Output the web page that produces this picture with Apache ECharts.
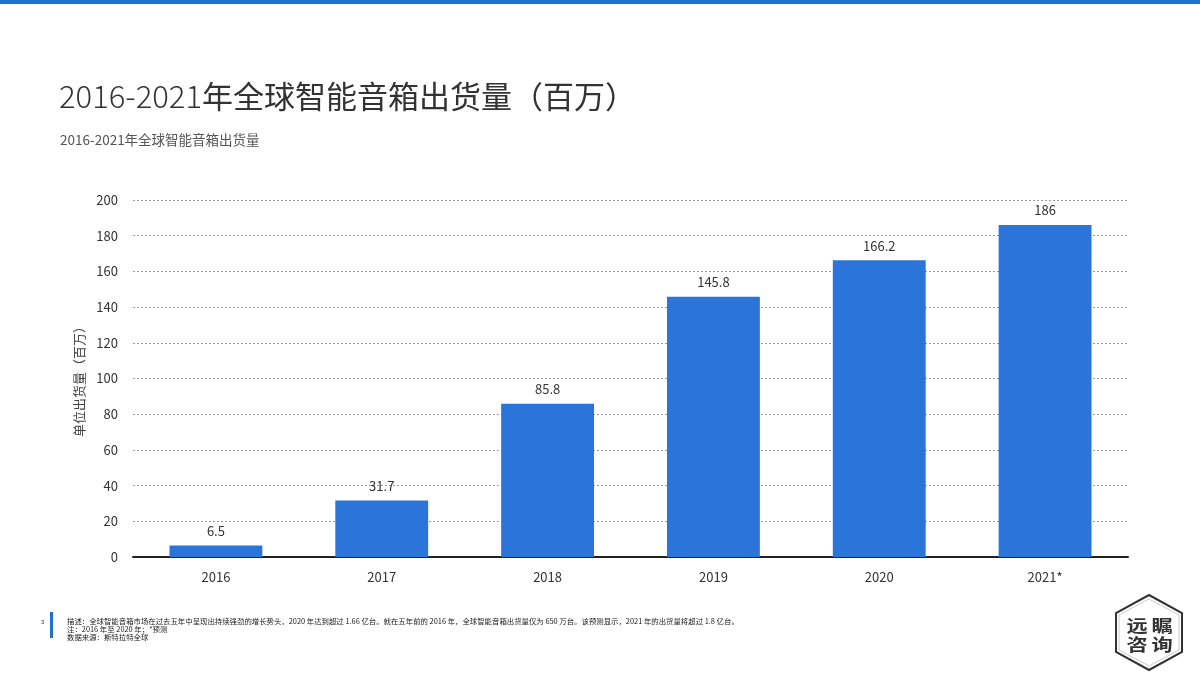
<!DOCTYPE html>
<html>
<head>
<meta charset="utf-8">
<script src="https://cdn.jsdelivr.net/npm/echarts@6/dist/echarts.min.js"></script>
<style>html,body{margin:0;padding:0;background:#fff;}#c{width:1200px;height:675px;}</style>
</head>
<body>
<div id="c"></div>
<script>
const categories = ['2016', '2017', '2018', '2019', '2020', '2021*'];
const shipments = [6.5, 31.7, 85.8, 145.8, 166.2, 186];
const yTicks = { min: 0, max: 200, interval: 20 };

const titleNum = '2016-2021';
const titleRest = '年全球智能音箱出货量（百万）';
const subtitleText = '2016-2021年全球智能音箱出货量';
const yAxisName = '单位出货量（百万）';
const noteLines = [
  '描述：全球智能音箱市场在过去五年中呈现出持续强劲的增长势头，2020 年达到超过 1.66 亿台。就在五年前的 2016 年，全球智能音箱出货量仅为 650 万台。该预测显示，2021 年的出货量将超过 1.8 亿台。',
  '注：2016 年至 2020 年；*预测',
  '数据来源：斯特拉特全球'
];
const logoChars = ['远', '瞩', '咨', '询'];

const font = '"Noto Sans CJK SC", "Open Sans", sans-serif';
const logoPos = [[1137, 626], [1162, 626], [1137, 645], [1162, 645]];
const logoText = logoChars.map((ch, i) => ({
  type: 'text', x: logoPos[i][0], y: logoPos[i][1], scaleX: 1.25,
  style: { x: 0, y: 0, text: ch, fontSize: 17, fontWeight: 'bold', fill: '#333', fontFamily: font, align: 'center', verticalAlign: 'middle' }
}));

const chart = echarts.init(document.getElementById('c'));
chart.setOption({
  backgroundColor: '#fff',
  animation: false,
  textStyle: { fontFamily: font },
  title: [
    { text: '{a|' + titleNum + '}{b|' + titleRest + '}', left: 54, top: 76,
      textStyle: { rich: {
        a: { fontSize: 31, fontWeight: 300, color: '#333', fontFamily: font },
        b: { fontSize: 31, fontWeight: 400, color: '#333', fontFamily: font }
      } } },
    { text: subtitleText, left: 55, top: 128, textStyle: { fontSize: 13.5, fontWeight: 'normal', color: '#555', fontFamily: font } }
  ],
  grid: { left: 133, right: 72, top: 200, bottom: 118, containLabel: false },
  xAxis: {
    type: 'category',
    data: categories,
    axisLine: { lineStyle: { color: '#222', width: 2 } },
    axisTick: { show: false },
    axisLabel: { color: '#333', fontSize: 13, margin: 14 }
  },
  yAxis: {
    type: 'value',
    min: yTicks.min, max: yTicks.max, interval: yTicks.interval,
    name: yAxisName,
    nameLocation: 'middle',
    nameGap: 42,
    nameRotate: 90,
    nameTextStyle: { color: '#444', fontSize: 13 },
    axisLine: { show: false },
    axisTick: { show: false },
    axisLabel: { color: '#333', fontSize: 13, margin: 15 },
    splitLine: { lineStyle: { color: '#999', type: [2, 2], width: 1 } }
  },
  series: [{
    type: 'bar',
    data: shipments,
    barWidth: '56%',
    itemStyle: { color: '#2b74d9' },
    label: { show: true, position: 'top', color: '#333', fontSize: 13, distance: 8 }
  }],
  graphic: [
    { type: 'rect', left: 0, top: 0, shape: { width: 1200, height: 4 }, style: { fill: '#1a73cf' } },
    { type: 'rect', left: 50, top: 612, shape: { width: 3, height: 26 }, style: { fill: '#1a73cf' } },
    { type: 'text', left: 41, top: 619, style: { text: '3', fontSize: 6, fill: '#333' } },
    { type: 'text', left: 67, top: 617, style: { text: noteLines[0], fontSize: 7.4, fill: '#222', fontFamily: font } },
    { type: 'text', left: 67, top: 625, style: { text: noteLines[1], fontSize: 7.4, fill: '#222', fontFamily: font } },
    { type: 'text', left: 67, top: 633, style: { text: noteLines[2], fontSize: 7.4, fill: '#222', fontFamily: font } },
    { type: 'polygon', shape: { points: [[1149, 595], [1182, 613], [1182, 652], [1149, 670], [1116, 652], [1116, 613]] }, style: { fill: 'none', stroke: '#333', lineWidth: 2 } },
    { type: 'polygon', shape: { points: [[1149, 599], [1179, 615], [1179, 650], [1149, 666], [1119, 650], [1119, 615]] }, style: { fill: 'none', stroke: '#aaa', lineWidth: 0.6 } }
  ].concat(logoText)
});
</script>
</body>
</html>
